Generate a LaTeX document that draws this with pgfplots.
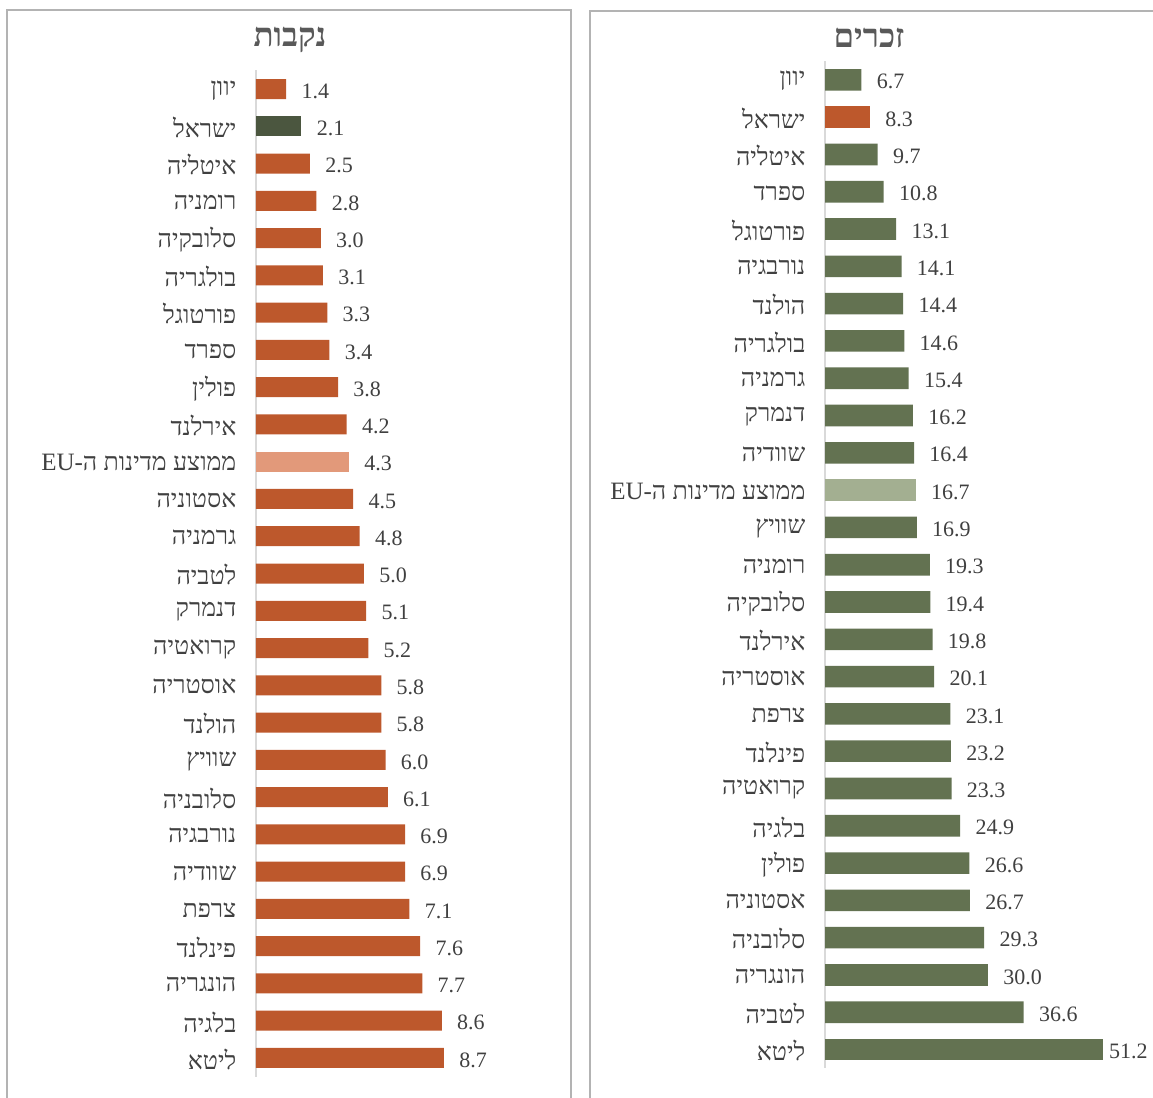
\documentclass[border=0pt]{standalone}
\usepackage{fontspec}
\usepackage{pgfplots}
\pgfplotsset{compat=1.18}
\setmainfont{Liberation Serif}
\newfontfamily\hebfont[Script=Hebrew]{Liberation Serif}
\TeXXeTstate=1
\newcommand{\heb}[1]{{\hebfont\beginR #1\endR}}
\newcommand{\eu}{\heb{ממוצע מדינות ה-\beginL EU\endL}}

\definecolor{orng}{HTML}{BD582C}
\definecolor{orngl}{HTML}{E2997A}
\definecolor{grn}{HTML}{637251}
\definecolor{grnd}{HTML}{4B563F}
\definecolor{grnl}{HTML}{A3AF91}
\definecolor{txt}{HTML}{404040}
\definecolor{ttl}{HTML}{595959}
\definecolor{frm}{HTML}{B3B3B3}
\definecolor{axl}{HTML}{D9D9D9}

\pgfplotsset{
  panel/.style={
    xbar, bar shift=0pt, y dir=reverse, scale only axis, clip=false,
    ymin=-0.5, ymax=26.5, xmin=0,
    axis x line=none, axis y line=left,
    y axis line style={draw=axl, line width=1pt, -},
    ytick={0,...,26}, ytick style={draw=none}, xtick=\empty,
    yticklabel style={font=\fontsize{12.5}{13}\selectfont, text=txt, anchor=east, inner sep=0pt, xshift=-7.5pt, yshift=-0.6pt},
    nodes near coords={\pgfmathprintnumber[fixed,fixed zerofill,precision=1,assume math mode=true]{\pgfplotspointmeta}},
    point meta=x,
    nodes near coords style={font=\fontsize{11}{12}\selectfont, text=txt, anchor=west, inner sep=0pt, xshift=7.5pt, yshift=-1pt},
  },
}

\begin{document}
\begin{tikzpicture}
\useasboundingbox (0,0) rectangle (576.5pt,-549pt);
% frames
\draw[frm, line width=1pt] (3.5pt,-560pt) |- (285.5pt,-5pt) -- (285.5pt,-560pt);
\draw[frm, line width=1pt] (295pt,-560pt) |- (590pt,-5.5pt);
% titles
\node[font=\bfseries\fontsize{16.5}{17}\selectfont, text=ttl] at (145pt,-20pt) {\heb{נקבות}};
\node[font=\bfseries\fontsize{16.5}{17}\selectfont, text=ttl] at (434.5pt,-19pt) {\heb{זכרים}};

% females
\begin{axis}[panel,
  at={(128pt,-35.2pt)}, anchor=north west,
  width=108pt, height=503.1pt, xmax=10, bar width=10pt,
  yticklabels={\heb{יוון},\heb{ישראל},\heb{איטליה},\heb{רומניה},\heb{סלובקיה},\heb{בולגריה},\heb{פורטוגל},\heb{ספרד},\heb{פולין},\heb{אירלנד},\eu,\heb{אסטוניה},\heb{גרמניה},\heb{לטביה},\heb{דנמרק},\heb{קרואטיה},\heb{אוסטריה},\heb{הולנד},\heb{שוויץ},\heb{סלובניה},\heb{נורבגיה},\heb{שוודיה},\heb{צרפת},\heb{פינלנד},\heb{הונגריה},\heb{בלגיה},\heb{ליטא}},
]
\addplot[fill=orng, draw=none] coordinates {
 (1.4,0) (2.5,2) (2.8,3) (3.0,4) (3.1,5) (3.3,6) (3.4,7) (3.8,8) (4.2,9)
 (4.5,11) (4.8,12) (5.0,13) (5.1,14) (5.2,15) (5.8,16) (5.8,17) (6.0,18)
 (6.1,19) (6.9,20) (6.9,21) (7.1,22) (7.6,23) (7.7,24) (8.6,25) (8.7,26)};
\addplot[fill=grnd, draw=none] coordinates {(2.1,1)};
\addplot[fill=orngl, draw=none] coordinates {(4.3,10)};
\end{axis}

% males
\begin{axis}[panel,
  at={(412.5pt,-30.6pt)}, anchor=north west,
  width=162.9pt, height=503.5pt, xmax=60, bar width=10.8pt,
  yticklabels={\heb{יוון},\heb{ישראל},\heb{איטליה},\heb{ספרד},\heb{פורטוגל},\heb{נורבגיה},\heb{הולנד},\heb{בולגריה},\heb{גרמניה},\heb{דנמרק},\heb{שוודיה},\eu,\heb{שוויץ},\heb{רומניה},\heb{סלובקיה},\heb{אירלנד},\heb{אוסטריה},\heb{צרפת},\heb{פינלנד},\heb{קרואטיה},\heb{בלגיה},\heb{פולין},\heb{אסטוניה},\heb{סלובניה},\heb{הונגריה},\heb{לטביה},\heb{ליטא}},
]
\addplot[fill=grn, draw=none] coordinates {
 (6.7,0) (9.7,2) (10.8,3) (13.1,4) (14.1,5) (14.4,6) (14.6,7) (15.4,8)
 (16.2,9) (16.4,10) (16.9,12) (19.3,13) (19.4,14) (19.8,15) (20.1,16)
 (23.1,17) (23.2,18) (23.3,19) (24.9,20) (26.6,21) (26.7,22) (29.3,23)
 (30.0,24) (36.6,25)};
\addplot[fill=orng, draw=none] coordinates {(8.3,1)};
\addplot[fill=grnl, draw=none] coordinates {(16.7,11)};
\addplot[fill=grn, draw=none, nodes near coords style={xshift=-4.7pt}] coordinates {(51.2,26)};
\end{axis}
\end{tikzpicture}
\end{document}
